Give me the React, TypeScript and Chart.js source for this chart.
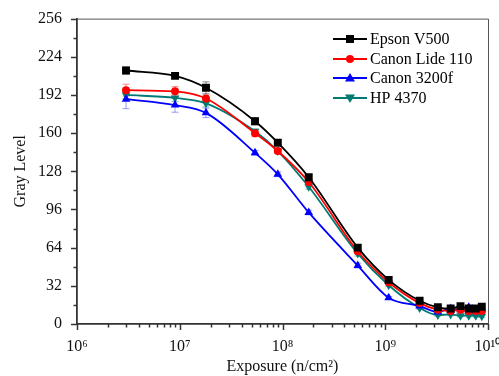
import React, { useEffect, useRef } from 'react';
import { Chart, registerables } from 'chart.js';

Chart.register(...registerables);

const exposure = [3e6, 9e6, 1.8e7, 5.4e7, 9e7, 1.8e8, 5.4e8, 1.08e9, 2.16e9, 3.25e9, 4.33e9, 5.4e9, 6.5e9, 7.6e9, 8.7e9];
const epsonV500 = [212.5, 208, 198, 170, 152, 123, 64, 37, 19.5, 14, 13, 15, 13, 13, 14.5];
const canonLide110 = [196, 195, 189, 160, 145, 119, 61, 35, 17.5, 12, 11, 12, 11, 11, 11];
const canon3200f = [188.5, 183.5, 177, 143.5, 125.5, 93.5, 49, 22, 15, 10, 13, 12, 14, 11, 12];
const hp4370 = [192, 189.5, 185, 161.5, 145, 115, 59, 32.5, 13.5, 7.5, 8, 7, 7, 7, 6.5];

const epsonErr = [3, 2, 5, 3, 2, 2, 2, 1, 1, 1, 1, 1, 1, 1, 1];
const canonLideErr = [5, 4, 3, 3, 2, 2, 2, 1, 1, 1, 1, 1, 1, 1, 1];
const canon3200Err = [8, 6, 4, 2, 2, 2, 2, 1, 1, 1, 1, 1, 1, 1, 1];
const hpErr = [3, 3, 3, 2, 2, 2, 2, 1, 1, 1, 1, 1, 1, 1, 1];

const seriesNames = ['Epson V500', 'Canon Lide 110', 'Canon 3200f', 'HP 4370'];
const seriesColors = ['#000000', '#ff0000', '#0000ff', '#007b73'];
const errColors = ['rgba(0,0,0,0.45)', 'rgba(255,0,0,0.45)', 'rgba(60,60,255,0.5)', 'rgba(0,123,115,0.45)'];
const markerStyles = ['rect', 'circle', 'triangle', 'triangleDown'];

const xMajorTicks = [1e6, 1e7, 1e8, 1e9, 1e10];
const yMin = 0;
const yMax = 256;
const yStep = 32;

const FONT = "'Liberation Serif', 'Times New Roman', serif";
const SUP: Record<string, string> = { '0': '⁰', '1': '¹', '2': '²', '3': '³', '4': '⁴', '5': '⁵', '6': '⁶', '7': '⁷', '8': '⁸', '9': '⁹' };

function drawMarker(ctx: CanvasRenderingContext2D, style: string, x: number, y: number, color: string) {
  ctx.save();
  ctx.fillStyle = color;
  ctx.beginPath();
  if (style === 'rect') {
    ctx.rect(x - 4, y - 4, 8, 8);
  } else if (style === 'circle') {
    ctx.arc(x, y, 4, 0, Math.PI * 2);
  } else if (style === 'triangle') {
    ctx.moveTo(x, y - 5);
    ctx.lineTo(x + 5, y + 3.5);
    ctx.lineTo(x - 5, y + 3.5);
    ctx.closePath();
  } else {
    ctx.moveTo(x, y + 5);
    ctx.lineTo(x + 5, y - 3.5);
    ctx.lineTo(x - 5, y - 3.5);
    ctx.closePath();
  }
  ctx.fill();
  ctx.restore();
}

const errs = [epsonErr, canonLideErr, canon3200Err, hpErr];

const customPlugin = {
  id: 'custom',
  beforeDatasetsDraw(chart: any) {
    const ctx = chart.ctx as CanvasRenderingContext2D;
    const ys = chart.scales.y;
    chart.data.datasets.forEach((ds: any, di: number) => {
      const meta = chart.getDatasetMeta(di);
      ctx.save();
      ctx.strokeStyle = errColors[di];
      ctx.lineWidth = 1;
      meta.data.forEach((pt: any, i: number) => {
        const v = ds.data[i].y;
        const e = errs[di][i];
        const y1 = ys.getPixelForValue(v + e);
        const y2 = ys.getPixelForValue(v - e);
        ctx.beginPath();
        ctx.moveTo(pt.x, y1);
        ctx.lineTo(pt.x, y2);
        ctx.moveTo(pt.x - 3.5, y1);
        ctx.lineTo(pt.x + 3.5, y1);
        ctx.moveTo(pt.x - 3.5, y2);
        ctx.lineTo(pt.x + 3.5, y2);
        ctx.stroke();
      });
      ctx.restore();
    });
  },
  afterDatasetsDraw(chart: any) {
    const ctx = chart.ctx as CanvasRenderingContext2D;
    const area = chart.chartArea;
    const xs = chart.scales.x;
    const ys = chart.scales.y;
    ctx.save();
    ctx.strokeStyle = '#555';
    ctx.lineWidth = 1;
    ctx.beginPath();
    ctx.moveTo(area.left, area.top + 0.5);
    ctx.lineTo(area.right + 0.5, area.top + 0.5);
    ctx.lineTo(area.right + 0.5, area.bottom);
    ctx.stroke();
    ctx.strokeStyle = '#333';
    ctx.lineWidth = 1.5;
    for (let v = yMin; v <= yMax; v += yStep / 2) {
      const py = Math.round(ys.getPixelForValue(v)) + 0.5;
      const len = v % yStep === 0 ? 6 : 3.5;
      ctx.beginPath();
      ctx.moveTo(area.left, py);
      ctx.lineTo(area.left - len, py);
      ctx.stroke();
    }
    for (let d = 6; d <= 10; d++) {
      for (let m = 1; m <= 9; m++) {
        const v = m * Math.pow(10, d);
        if (v > 1e10) break;
        const px = Math.round(xs.getPixelForValue(v)) + 0.5;
        const len = m === 1 ? 6 : 3.5;
        ctx.beginPath();
        ctx.moveTo(px, area.bottom);
        ctx.lineTo(px, area.bottom + len);
        ctx.stroke();
      }
    }
    ctx.restore();

    ctx.save();
    const lx0 = 333, lx1 = 367, tx = 370;
    const rowY = [39, 59, 78, 98];
    ctx.font = `16px ${FONT}`;
    ctx.textBaseline = 'middle';
    ctx.textAlign = 'left';
    seriesNames.forEach((name, i) => {
      const y = rowY[i];
      ctx.strokeStyle = seriesColors[i];
      ctx.lineWidth = 2;
      ctx.beginPath();
      ctx.moveTo(lx0, y);
      ctx.lineTo(lx1, y);
      ctx.stroke();
      drawMarker(ctx, markerStyles[i], (lx0 + lx1) / 2, y, seriesColors[i]);
      ctx.fillStyle = '#000';
      ctx.fillText(name, tx, y + 1);
    });
    ctx.restore();
  },
};

export default function App() {
  const ref = useRef<HTMLCanvasElement>(null);
  useEffect(() => {
    document.body.style.margin = '0';
    const series = [epsonV500, canonLide110, canon3200f, hp4370];
    const chart = new Chart(ref.current as HTMLCanvasElement, {
      type: 'line',
      data: {
        datasets: series.map((vals, i) => ({
          label: seriesNames[i],
          data: exposure.map((x, j) => ({ x, y: vals[j] })),
          borderColor: seriesColors[i],
          backgroundColor: seriesColors[i],
          borderWidth: 1.8,
          pointStyle: markerStyles[i] === 'triangleDown' ? 'triangle' : markerStyles[i],
          rotation: markerStyles[i] === 'triangleDown' ? 180 : 0,
          pointRadius: markerStyles[i] === 'rect' ? 5.6 : markerStyles[i] === 'circle' ? 4 : 5,
          pointBorderWidth: 0,
          cubicInterpolationMode: 'monotone',
          fill: false,
        })),
      },
      options: {
        responsive: false,
        animation: false,
        layout: { padding: { left: 0, right: 11, top: 17, bottom: 0 } },
        plugins: { legend: { display: false }, tooltip: { enabled: false } },
        scales: {
          x: {
            type: 'logarithmic',
            min: 1e6,
            max: 1e10,
            afterBuildTicks: (axis: any) => {
              axis.ticks = xMajorTicks.map((v) => ({ value: v }));
            },
            afterFit: (axis: any) => {
              axis.height = 52;
              axis.paddingRight = 0;
              axis.paddingLeft = 0;
            },
            grid: { display: false, drawTicks: true, tickLength: 6 },
            border: { display: true, color: '#333', width: 1.8 },
            ticks: {
              autoSkip: false,
              maxRotation: 0,
              padding: 7,
              color: '#111',
              font: { family: FONT, size: 16 },
              callback: (v: any) => {
                const e = Math.round(Math.log10(Number(v)));
                return '10' + String(e).split('').map((c) => SUP[c]).join('');
              },
            },
            title: {
              display: true,
              text: 'Exposure (n/cm²)',
              color: '#111',
              font: { family: FONT, size: 16 },
              padding: { top: 1, bottom: 0 },
            },
          },
          y: {
            type: 'linear',
            min: yMin,
            max: yMax,
            afterBuildTicks: (axis: any) => {
              const t = [];
              for (let v = yMin; v <= yMax; v += yStep) t.push({ value: v });
              axis.ticks = t;
            },
            afterFit: (axis: any) => {
              axis.width = 77;
            },
            grid: { display: false, drawTicks: true, tickLength: 6 },
            border: { display: true, color: '#333', width: 1.8 },
            ticks: {
              padding: 9,
              color: '#111',
              font: { family: FONT, size: 16 },
            },
            title: {
              display: true,
              text: 'Gray Level',
              color: '#111',
              font: { family: FONT, size: 16 },
              padding: { top: 11, bottom: 0 },
            },
          },
        },
      },
      plugins: [customPlugin],
    } as any);
    return () => chart.destroy();
  }, []);
  return (
    <div style={{ position: 'absolute', left: 0, top: 0, width: 499, height: 376, background: '#fff' }}>
      <canvas ref={ref} width={499} height={376} style={{ width: 499, height: 376 }} />
    </div>
  );
}
